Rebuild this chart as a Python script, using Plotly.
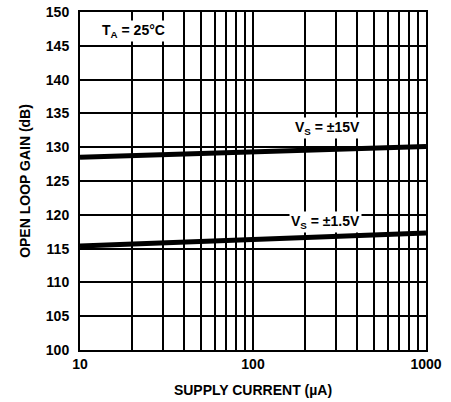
import plotly.graph_objects as go

current = [10, 100, 1000]
gain_15v = [128.5, 129.3, 130.1]
gain_1p5v = [115.4, 116.4, 117.3]

x_major = [10, 100, 1000]
x_labels = ["10", "100", "1000"]
x_minor = [20, 30, 40, 50, 60, 70, 80, 90, 200, 300, 400, 500, 600, 700, 800, 900]
y_ticks = [100, 105, 110, 115, 120, 125, 130, 135, 140, 145, 150]

FONT = "Liberation Sans, Arial, sans-serif"

fig = go.Figure()
fig.add_trace(go.Scatter(x=current, y=gain_15v, mode="lines",
                         line=dict(color="black", width=5), showlegend=False))
fig.add_trace(go.Scatter(x=current, y=gain_1p5v, mode="lines",
                         line=dict(color="black", width=5), showlegend=False))

fig.add_annotation(x=2.43, y=132.8, xref="x", yref="y", text="<b>V<sub>S</sub> = ±15V</b>",
                   showarrow=False, bgcolor="white", font=dict(size=14, color="black", family=FONT))
fig.add_annotation(x=2.42, y=119.0, xref="x", yref="y", text="<b>V<sub>S</sub> = ±1.5V</b>",
                   showarrow=False, bgcolor="white", font=dict(size=14, color="black", family=FONT))
fig.add_annotation(x=1.31, y=147.2, xref="x", yref="y", text="<b>T<sub>A</sub> = 25°C</b>",
                   showarrow=False, bgcolor="white", font=dict(size=14, color="black", family=FONT))

fig.update_xaxes(type="log", range=[1, 3], tickvals=x_major,
                 ticktext=[f"<b>{t}</b>" for t in x_labels],
                 showgrid=True, gridcolor="black", gridwidth=2,
                 minor=dict(tickvals=x_minor, showgrid=True, gridcolor="black",
                            gridwidth=2, ticks=""),
                 showline=True, linecolor="black", linewidth=2, mirror=True,
                 ticks="", tickfont=dict(size=14, color="black", family=FONT),
                 ticklabeloverflow="allow",
                 title=dict(text="<b>SUPPLY CURRENT (µA)</b>", standoff=14,
                            font=dict(size=14, color="black", family=FONT)),
                 zeroline=False)
fig.update_yaxes(range=[100, 150], tickvals=y_ticks,
                 ticktext=[f"<b>{v}</b>" for v in y_ticks],
                 showgrid=True, gridcolor="black", gridwidth=2,
                 showline=True, linecolor="black", linewidth=2, mirror=True,
                 ticks="", tickfont=dict(size=14, color="black", family=FONT),
                 ticklabeloverflow="allow", ticklabelstandoff=6,
                 title=dict(text="<b>OPEN LOOP GAIN (dB)</b>", standoff=12,
                            font=dict(size=14, color="black", family=FONT)),
                 zeroline=False)

fig.update_layout(width=451, height=402, margin=dict(l=80, r=25, t=4, b=52),
                  plot_bgcolor="white", paper_bgcolor="white", showlegend=False)

fig.write_html("out.html", config={"displayModeBar": False},
               post_script="document.body.style.margin='0';")
